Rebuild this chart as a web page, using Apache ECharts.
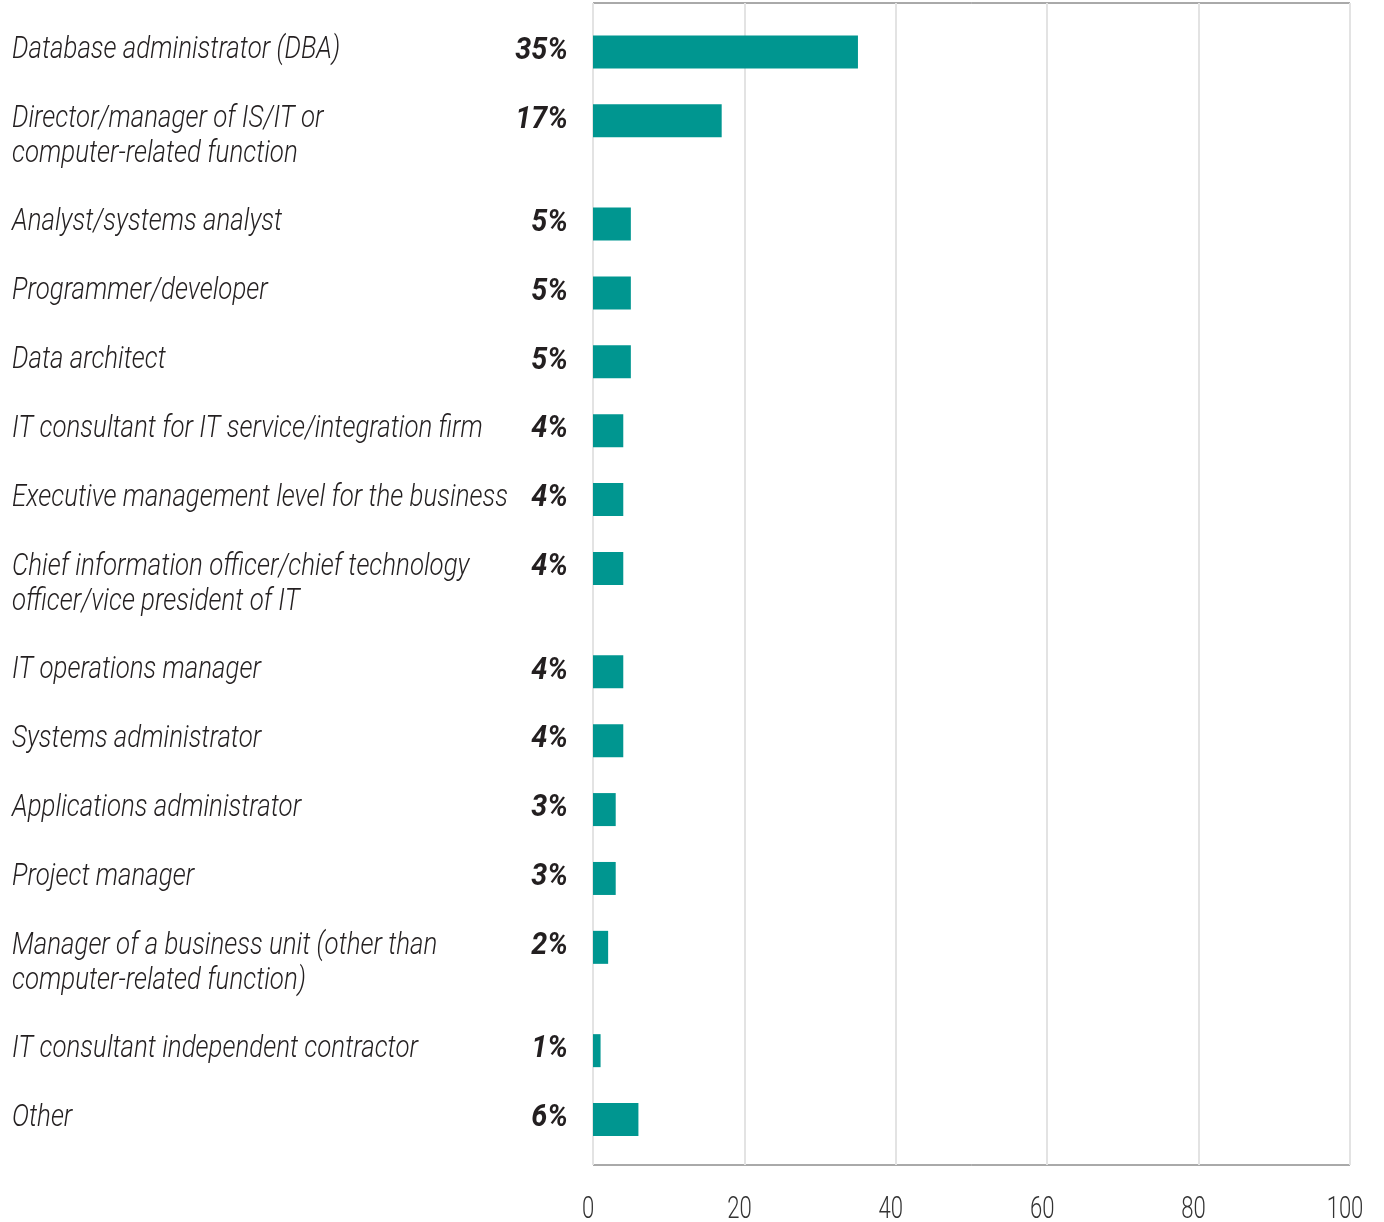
<!DOCTYPE html>
<html>
<head>
<meta charset="utf-8">
<title>Job roles of respondents</title>
<script src="https://cdn.jsdelivr.net/npm/echarts@6/dist/echarts.min.js"></script>
<style>
  html, body { margin: 0; padding: 0; background: #ffffff; }
  #chart { width: 1384px; height: 1222px; }
</style>
</head>
<body>
<div id="chart"></div>
<script>
// Job role categories (a "\n" marks a label that wraps onto a second line)
const roles = [
  'Database administrator (DBA)',
  'Director/manager of IS/IT or\ncomputer-related function',
  'Analyst/systems analyst',
  'Programmer/developer',
  'Data architect',
  'IT consultant for IT service/integration firm',
  'Executive management level for the business',
  'Chief information officer/chief technology\nofficer/vice president of IT',
  'IT operations manager',
  'Systems administrator',
  'Applications administrator',
  'Project manager',
  'Manager of a business unit (other than\ncomputer-related function)',
  'IT consultant independent contractor',
  'Other'
];

// Share of respondents, percent
const shares = [35, 17, 5, 5, 5, 4, 4, 4, 4, 4, 3, 3, 2, 1, 6];

// Value axis ticks
const xTicks = [0, 20, 40, 60, 80, 100];

// Roboto squeezed horizontally stands in for a condensed face
const FONT = "Roboto, 'Noto Sans', sans-serif";
const CONDENSE = 0.835;
const TEAL = '#009690';
const INK = '#231f20';

// Rows advance by one step; a wrapped label adds half a step of extra room below it.
const rowPos = [];
let cursor = 0;
roles.forEach(function (r) {
  rowPos.push(cursor);
  cursor += 1 + 0.5 * (r.split('\n').length - 1);
});
const lastPos = rowPos[rowPos.length - 1];

const barData = shares.map(function (v, i) { return [v, rowPos[i], i]; });
const tickData = xTicks.map(function (t) { return [t, lastPos + 0.66]; });

const chart = echarts.init(document.getElementById('chart'), null, { renderer: 'canvas' });

chart.setOption({
  backgroundColor: '#ffffff',
  animation: false,
  grid: {
    left: 593, right: 34, top: 3, bottom: 57,
    show: true, borderColor: '#555555', borderWidth: 1, backgroundColor: 'transparent'
  },
  xAxis: {
    type: 'value',
    min: xTicks[0], max: xTicks[xTicks.length - 1], interval: 20,
    axisLine: { show: false, onZero: false },
    axisTick: { show: false },
    splitLine: { show: true, lineStyle: { color: '#e3e3e3', width: 2 } },
    axisLabel: { show: false }
  },
  yAxis: {
    type: 'value',
    inverse: true,
    min: -0.71, max: lastPos + 0.66,
    axisLine: { show: false, onZero: false },
    axisTick: { show: false },
    axisLabel: { show: false },
    splitLine: { show: false }
  },
  series: [
    {
      // bars with their percentage and role labels
      type: 'custom',
      coordinateSystem: 'cartesian2d',
      encode: { x: 0, y: 1 },
      data: barData,
      clip: false,
      renderItem: function (params, api) {
        const v = api.value(0);
        const pos = api.value(1);
        const idx = api.value(2);
        const p0 = api.coord([0, pos]);
        const p1 = api.coord([v, pos]);
        const h = 33;
        const mid = p0[1] - 1.5;
        return {
          type: 'group',
          children: [
            {
              type: 'rect',
              shape: { x: p0[0], y: p0[1] - h / 2, width: p1[0] - p0[0], height: h },
              style: { fill: TEAL }
            },
            {
              type: 'text',
              x: p0[0] - 25, y: mid + 0.5,
              scaleX: 0.93,
              style: {
                text: v + '%',
                x: 0, y: 0,
                align: 'right', verticalAlign: 'middle',
                font: 'italic bold 31px ' + FONT,
                fill: INK
              }
            },
            {
              type: 'text',
              x: 12, y: mid - 17.5,
              scaleX: CONDENSE,
              style: {
                text: roles[idx],
                x: 0, y: 0,
                align: 'left', verticalAlign: 'top',
                font: 'italic 300 31px ' + FONT,
                lineHeight: 35,
                fill: INK
              }
            }
          ]
        };
      }
    },
    {
      // value-axis tick labels under the plot
      type: 'custom',
      coordinateSystem: 'cartesian2d',
      encode: { x: 0, y: 1 },
      data: tickData,
      clip: false,
      silent: true,
      renderItem: function (params, api) {
        const p = api.coord([api.value(0), api.value(1)]);
        return {
          type: 'text',
          x: p[0] - 5, y: p[1] + 45,
          scaleX: 0.69,
          style: {
            text: String(api.value(0)),
            x: 0, y: 0,
            align: 'center', verticalAlign: 'middle',
            font: '300 32px ' + FONT,
            fill: '#333333'
          }
        };
      }
    }
  ]
});
</script>
</body>
</html>
